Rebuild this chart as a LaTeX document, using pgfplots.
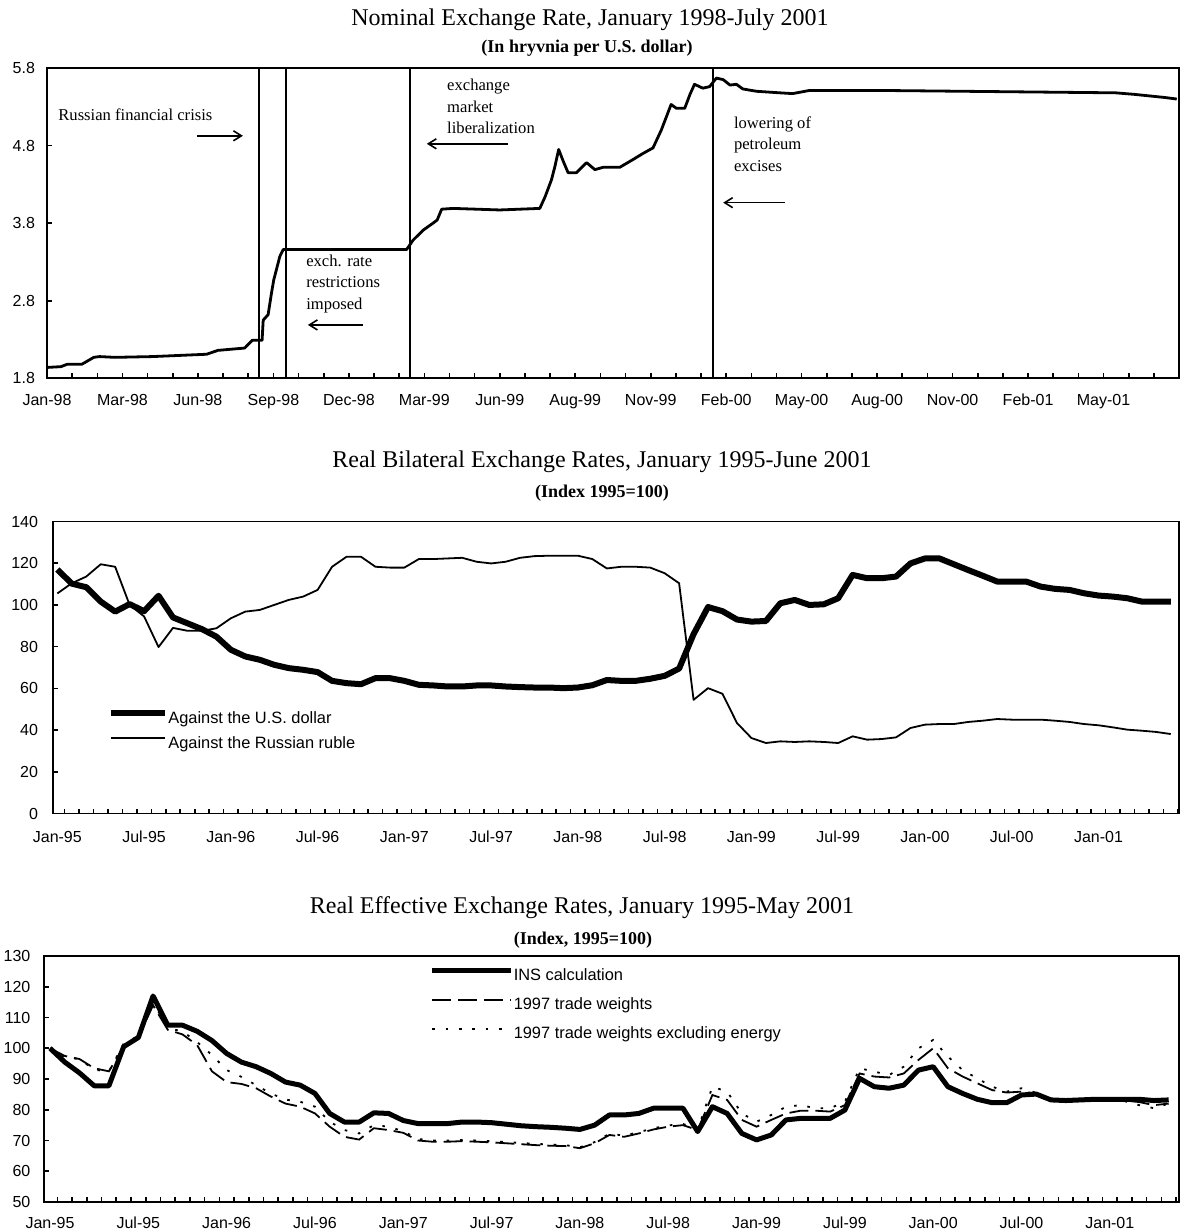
\documentclass[border=0pt]{standalone}
\usepackage{fontspec}
\setmainfont{Liberation Serif}
\setsansfont{Liberation Sans}
\usepackage{pgfplots}
\pgfplotsset{compat=1.18}
\usetikzlibrary{arrows.meta}

\pgfplotsset{
  refstyle/.style={
    scale only axis, anchor=north west,
    axis line style={line width=0.9pt},
    tick align=inside, xtick pos=left, ytick pos=left,
    major tick length=2.5pt, minor tick length=2.5pt,
    every tick/.style={black, line width=0.8pt},
    tick label style={font=\sffamily\fontsize{8}{9.6}\selectfont},
    xticklabel style={text height=6pt, text depth=0.3pt},
    /pgf/number format/assume math mode=true,
  },
  monthticks/.style={
    every major x tick/.append style={draw=none},
    xtick={0,6,...,72},
    xticklabels={Jan-95,Jul-95,Jan-96,Jul-96,Jan-97,Jul-97,Jan-98,Jul-98,Jan-99,Jul-99,Jan-00,Jul-00,Jan-01},
  },
}
\tikzset{annot/.style={anchor=west, align=left, inner sep=0pt, font=\fontsize{8.3}{10.75}\selectfont},
  arr/.style={line width=0.8pt, -{Straight Barb[length=4pt,width=5pt]}}}

\begin{document}
\begin{tikzpicture}
\path[use as bounding box] (0,0) rectangle (590.5pt,-616pt);

% ---------------- Panel 1 ----------------
\node[font=\fontsize{12}{14}\selectfont] at (295pt,-10pt) {Nominal Exchange Rate, January 1998-July 2001};
\node[font=\bfseries\fontsize{9}{11}\selectfont] at (293.5pt,-24pt) {(In hryvnia per U.S. dollar)};
\begin{axis}[refstyle, at={(23.5pt,-34pt)}, width=566pt, height=155.15pt,
  xmin=0, xmax=15, ymin=1.8, ymax=5.8,
  ytick={1.8,2.8,3.8,4.8,5.8}, yticklabels={1.8,2.8,3.8,4.8,5.8},
  xtick={0,...,15},
  xticklabels={Jan-98,Mar-98,Jun-98,Sep-98,Dec-98,Mar-99,Jun-99,Aug-99,Nov-99,Feb-00,May-00,Aug-00,Nov-00,Feb-01,May-01,{}},
  minor x tick num=2,
  xticklabel style={yshift=-4.2pt}, yticklabel style={xshift=-2.5pt},
]
\addplot[line width=1.4pt, line join=round] table {
0 1.94
0.185 1.95
0.265 1.98
0.46 1.98
0.62 2.07
0.695 2.08
0.90 2.07
1.40 2.08
2.115 2.11
2.265 2.16
2.62 2.19
2.72 2.29
2.85 2.29
2.865 2.55
2.93 2.62
2.975 2.90
3.005 3.07
3.085 3.37
3.13 3.46
4.765 3.46
4.85 3.58
4.985 3.71
5.115 3.80
5.17 3.84
5.23 3.98
5.38 3.99
6.0 3.97
6.53 3.99
6.60 4.14
6.685 4.36
6.73 4.53
6.78 4.75
6.84 4.60
6.905 4.45
7.015 4.45
7.15 4.58
7.26 4.49
7.37 4.52
7.59 4.52
7.765 4.62
7.90 4.70
8.03 4.77
8.14 5.00
8.27 5.33
8.34 5.28
8.45 5.28
8.52 5.46
8.58 5.59
8.69 5.54
8.78 5.56
8.87 5.67
8.96 5.65
9.05 5.58
9.135 5.59
9.22 5.53
9.40 5.50
9.71 5.48
9.88 5.47
10.10 5.51
11.11 5.51
12.13 5.50
13.14 5.49
14.16 5.48
14.41 5.46
14.81 5.42
14.97 5.40
};
\addplot[line width=0.9pt] coordinates {(2.81,1.8) (2.81,5.8)};
\addplot[line width=0.9pt] coordinates {(3.17,1.8) (3.17,5.8)};
\addplot[line width=0.9pt] coordinates {(4.81,1.8) (4.81,5.8)};
\addplot[line width=0.9pt] coordinates {(8.83,1.8) (8.83,5.8)};
\node[annot] at (axis cs:0.146,5.2) {Russian financial crisis};
\draw[arr] (axis cs:1.987,4.926) -- (axis cs:2.596,4.926);
\node[annot] at (axis cs:3.43,3.017) {exch. rate\\restrictions\\imposed};
\draw[arr] (axis cs:4.185,2.488) -- (axis cs:3.457,2.488);
\node[annot] at (axis cs:5.298,5.30) {exchange\\market\\liberalization};
\draw[arr] (axis cs:6.106,4.823) -- (axis cs:5.033,4.823);
\node[annot] at (axis cs:9.099,4.823) {lowering of\\petroleum\\excises};
\draw[arr] (axis cs:9.775,4.064) -- (axis cs:8.96,4.064);
\end{axis}

% ---------------- Panel 2 ----------------
\node[font=\fontsize{12}{14}\selectfont] at (301pt,-230.85pt) {Real Bilateral Exchange Rates, January 1995-June 2001};
\node[font=\bfseries\fontsize{9}{11}\selectfont] at (301pt,-246.5pt) {(Index 1995=100)};
\begin{axis}[refstyle, monthticks, at={(26.35pt,-260.75pt)}, width=563.15pt, height=146pt,
  xmin=-0.32, xmax=77.57, ymin=0, ymax=140, ytick={0,20,...,140},
  minor xtick={0.5,1.5,...,77.5},
  xticklabel style={yshift=-5.2pt}, yticklabel style={xshift=-3.8pt},
  legend cell align=left,
  legend style={at={(axis cs:3.5,39.65)}, anchor=west, draw=none, fill=none, inner sep=0pt,
    font=\sffamily\fontsize{8.2}{9}\selectfont, row sep=4.8pt,
    nodes={inner xsep=0pt, inner ysep=0pt, text height=6pt, text depth=1.7pt},
    /tikz/every even column/.append style={column sep=0pt}},
  legend image code/.code={\draw[#1] (0pt,2.9pt) -- (27pt,2.9pt);},
]
\addplot[line width=3pt, line join=round] table[x index=0, y index=1] {
0 117 105.5
1 110.2 110.4
2 108.5 113.6
3 101.6 119.5
4 96.8 118.3
5 100.4 100
6 97 94.5
7 104.4 79.8
8 94 89
9 91.2 87.6
10 88.4 87.6
11 84.8 88.8
12 78.5 93.6
13 75.3 96.8
14 73.7 97.6
15 71.3 100
16 69.7 102.4
17 68.9 104
18 67.8 107.2
19 63.6 118.3
20 62.5 123.1
21 62 123.1
22 64.9 118.3
23 64.9 117.9
24 63.6 117.9
25 61.7 122
26 61.4 122
27 60.9 122.3
28 60.9 122.6
29 61.4 120.7
30 61.4 119.9
31 60.9 120.7
32 60.6 122.6
33 60.4 123.4
34 60.4 123.6
35 60.1 123.6
36 60.4 123.6
37 61.5 122
38 64 117.5
39 63.6 118.3
40 63.6 118.3
41 64.6 117.9
42 66 115.2
43 69.5 110.4
44 86 54.5
45 99 60.1
46 97 57.4
47 93 43.4
48 92 36.2
49 92.3 33.8
50 100.8 34.6
51 102.4 34.3
52 100 34.6
53 100.3 34.3
54 103.2 33.8
55 114.4 37
56 112.8 35.4
57 112.8 35.7
58 113.6 36.5
59 119.9 41
60 122.3 42.6
61 122.3 42.9
62 119.5 42.9
63 116.7 43.9
64 114 44.5
65 111.2 45.3
66 111.2 45
67 111.2 45
68 108.8 45
69 107.7 44.5
70 107.2 43.9
71 105.6 42.9
72 104.5 42.3
73 104 41.3
74 103.2 40.2
75 101.6 39.7
76 101.6 39.1
77 101.6 38.1
};
\addlegendentry{Against the U.S. dollar}
\addplot[line width=0.9pt, line join=round] table[x index=0, y index=2] {
0 117 105.5
1 110.2 110.4
2 108.5 113.6
3 101.6 119.5
4 96.8 118.3
5 100.4 100
6 97 94.5
7 104.4 79.8
8 94 89
9 91.2 87.6
10 88.4 87.6
11 84.8 88.8
12 78.5 93.6
13 75.3 96.8
14 73.7 97.6
15 71.3 100
16 69.7 102.4
17 68.9 104
18 67.8 107.2
19 63.6 118.3
20 62.5 123.1
21 62 123.1
22 64.9 118.3
23 64.9 117.9
24 63.6 117.9
25 61.7 122
26 61.4 122
27 60.9 122.3
28 60.9 122.6
29 61.4 120.7
30 61.4 119.9
31 60.9 120.7
32 60.6 122.6
33 60.4 123.4
34 60.4 123.6
35 60.1 123.6
36 60.4 123.6
37 61.5 122
38 64 117.5
39 63.6 118.3
40 63.6 118.3
41 64.6 117.9
42 66 115.2
43 69.5 110.4
44 86 54.5
45 99 60.1
46 97 57.4
47 93 43.4
48 92 36.2
49 92.3 33.8
50 100.8 34.6
51 102.4 34.3
52 100 34.6
53 100.3 34.3
54 103.2 33.8
55 114.4 37
56 112.8 35.4
57 112.8 35.7
58 113.6 36.5
59 119.9 41
60 122.3 42.6
61 122.3 42.9
62 119.5 42.9
63 116.7 43.9
64 114 44.5
65 111.2 45.3
66 111.2 45
67 111.2 45
68 108.8 45
69 107.7 44.5
70 107.2 43.9
71 105.6 42.9
72 104.5 42.3
73 104 41.3
74 103.2 40.2
75 101.6 39.7
76 101.6 39.1
77 101.6 38.1
};
\addlegendentry{Against the Russian ruble}
\end{axis}

% ---------------- Panel 3 ----------------
\node[font=\fontsize{12}{14}\selectfont] at (291pt,-454pt) {Real Effective Exchange Rates, January 1995-May 2001};
\node[font=\bfseries\fontsize{9}{11}\selectfont] at (291.5pt,-470pt) {(Index, 1995=100)};
\begin{axis}[refstyle, monthticks, at={(22pt,-478pt)}, width=567.5pt, height=123pt,
  xmin=-0.41, xmax=76.7, ymin=50, ymax=130, ytick={50,60,...,130},
  minor xtick={0.5,1.5,...,76.5},
  xticklabel style={yshift=-3.8pt}, yticklabel style={xshift=-3.3pt},
  legend cell align=left,
  legend style={at={(axis cs:25.77,114.0)}, anchor=west, draw=none, fill=none, inner sep=0pt,
    font=\sffamily\fontsize{8.2}{9}\selectfont, row sep=6.8pt,
    nodes={inner xsep=0pt, inner ysep=0pt, text height=6pt, text depth=1.7pt},
    /tikz/every even column/.append style={column sep=0pt}},
  legend image code/.code={\draw[#1] (0pt,2.9pt) -- (39.5pt,2.9pt);},
]
\addplot[line width=2.5pt, line join=round] table[x index=0, y index=1] {
0 100 100 100
1 95.5 97.5 97
2 92 96.5 96.5
3 87.8 93.5 93
4 87.8 92.5 92.5
5 100.5 100.5 101.5
6 103.5 103.5 104
7 117 114 115
8 107.5 106 106.5
9 107.5 104.5 105.5
10 105.5 101 102
11 102.5 92.5 97.8
12 98.3 89 92.9
13 95.5 88.4 90.7
14 94 87 88
15 91.8 84.3 85.3
16 89 82 83.3
17 88 81 82.6
18 85.3 78.8 81
19 78.8 74.5 76.1
20 76 71.2 73.4
21 76 70.3 72.3
22 79 74 75
23 78.8 73.4 74.5
24 76.5 72.5 73
25 75.5 70 70.5
26 75.5 69.6 70
27 75.5 69.6 70
28 76 69.8 70.2
29 76 69.6 70
30 75.8 69.4 69.8
31 75.3 69.1 69.5
32 74.8 68.8 69.2
33 74.5 68.5 68.9
34 74.3 68.3 68.7
35 74 68.2 68.5
36 73.6 67.5 67.8
37 75 69.1 69.5
38 78.3 71.8 72.2
39 78.3 71.2 71.6
40 78.8 72.3 72.7
41 80.5 73.6 74
42 80.5 74.5 74.9
43 80.5 75 75.4
44 72.9 73.4 73.6
45 81 84.8 87.5
46 78.8 83.2 85.9
47 72.3 76.7 78.8
48 70.2 74.5 76.1
49 71.8 76.7 78.3
50 76.7 78.8 81
51 77.2 79.7 81.5
52 77.2 79.7 80.5
53 77.2 79.4 80.5
54 79.9 81.5 82.6
55 90.2 91.8 93.5
56 87.5 90.8 92.4
57 87 90.5 91.3
58 88 91.8 94
59 92.9 96.2 100
60 94 100 102.7
61 87.5 93.5 97.3
62 85.3 90.8 92.9
63 83.4 88.6 90.2
64 82.3 86.4 87.5
65 82.3 85.6 85.9
66 84.8 85.9 87
67 85.1 85.3 85.5
68 83.2 83.2 83.2
69 83 83.2 83.2
70 83.2 83 83
71 83.4 83 83
72 83.4 83 83
73 83.4 83 82.8
74 83.4 82.5 81.5
75 83 81.5 80.5
76 83.2 82 82
};
\addlegendentry{INS calculation}
\addplot[line width=0.9pt, dash pattern=on 9.5pt off 3.5pt] table[x index=0, y index=2] {
0 100 100 100
1 95.5 97.5 97
2 92 96.5 96.5
3 87.8 93.5 93
4 87.8 92.5 92.5
5 100.5 100.5 101.5
6 103.5 103.5 104
7 117 114 115
8 107.5 106 106.5
9 107.5 104.5 105.5
10 105.5 101 102
11 102.5 92.5 97.8
12 98.3 89 92.9
13 95.5 88.4 90.7
14 94 87 88
15 91.8 84.3 85.3
16 89 82 83.3
17 88 81 82.6
18 85.3 78.8 81
19 78.8 74.5 76.1
20 76 71.2 73.4
21 76 70.3 72.3
22 79 74 75
23 78.8 73.4 74.5
24 76.5 72.5 73
25 75.5 70 70.5
26 75.5 69.6 70
27 75.5 69.6 70
28 76 69.8 70.2
29 76 69.6 70
30 75.8 69.4 69.8
31 75.3 69.1 69.5
32 74.8 68.8 69.2
33 74.5 68.5 68.9
34 74.3 68.3 68.7
35 74 68.2 68.5
36 73.6 67.5 67.8
37 75 69.1 69.5
38 78.3 71.8 72.2
39 78.3 71.2 71.6
40 78.8 72.3 72.7
41 80.5 73.6 74
42 80.5 74.5 74.9
43 80.5 75 75.4
44 72.9 73.4 73.6
45 81 84.8 87.5
46 78.8 83.2 85.9
47 72.3 76.7 78.8
48 70.2 74.5 76.1
49 71.8 76.7 78.3
50 76.7 78.8 81
51 77.2 79.7 81.5
52 77.2 79.7 80.5
53 77.2 79.4 80.5
54 79.9 81.5 82.6
55 90.2 91.8 93.5
56 87.5 90.8 92.4
57 87 90.5 91.3
58 88 91.8 94
59 92.9 96.2 100
60 94 100 102.7
61 87.5 93.5 97.3
62 85.3 90.8 92.9
63 83.4 88.6 90.2
64 82.3 86.4 87.5
65 82.3 85.6 85.9
66 84.8 85.9 87
67 85.1 85.3 85.5
68 83.2 83.2 83.2
69 83 83.2 83.2
70 83.2 83 83
71 83.4 83 83
72 83.4 83 83
73 83.4 83 82.8
74 83.4 82.5 81.5
75 83 81.5 80.5
76 83.2 82 82
};
\addlegendentry{1997 trade weights}
\addplot[line width=0.9pt, dash pattern=on 1.3pt off 5.4pt] table[x index=0, y index=3] {
0 100 100 100
1 95.5 97.5 97
2 92 96.5 96.5
3 87.8 93.5 93
4 87.8 92.5 92.5
5 100.5 100.5 101.5
6 103.5 103.5 104
7 117 114 115
8 107.5 106 106.5
9 107.5 104.5 105.5
10 105.5 101 102
11 102.5 92.5 97.8
12 98.3 89 92.9
13 95.5 88.4 90.7
14 94 87 88
15 91.8 84.3 85.3
16 89 82 83.3
17 88 81 82.6
18 85.3 78.8 81
19 78.8 74.5 76.1
20 76 71.2 73.4
21 76 70.3 72.3
22 79 74 75
23 78.8 73.4 74.5
24 76.5 72.5 73
25 75.5 70 70.5
26 75.5 69.6 70
27 75.5 69.6 70
28 76 69.8 70.2
29 76 69.6 70
30 75.8 69.4 69.8
31 75.3 69.1 69.5
32 74.8 68.8 69.2
33 74.5 68.5 68.9
34 74.3 68.3 68.7
35 74 68.2 68.5
36 73.6 67.5 67.8
37 75 69.1 69.5
38 78.3 71.8 72.2
39 78.3 71.2 71.6
40 78.8 72.3 72.7
41 80.5 73.6 74
42 80.5 74.5 74.9
43 80.5 75 75.4
44 72.9 73.4 73.6
45 81 84.8 87.5
46 78.8 83.2 85.9
47 72.3 76.7 78.8
48 70.2 74.5 76.1
49 71.8 76.7 78.3
50 76.7 78.8 81
51 77.2 79.7 81.5
52 77.2 79.7 80.5
53 77.2 79.4 80.5
54 79.9 81.5 82.6
55 90.2 91.8 93.5
56 87.5 90.8 92.4
57 87 90.5 91.3
58 88 91.8 94
59 92.9 96.2 100
60 94 100 102.7
61 87.5 93.5 97.3
62 85.3 90.8 92.9
63 83.4 88.6 90.2
64 82.3 86.4 87.5
65 82.3 85.6 85.9
66 84.8 85.9 87
67 85.1 85.3 85.5
68 83.2 83.2 83.2
69 83 83.2 83.2
70 83.2 83 83
71 83.4 83 83
72 83.4 83 83
73 83.4 83 82.8
74 83.4 82.5 81.5
75 83 81.5 80.5
76 83.2 82 82
};
\addlegendentry{1997 trade weights excluding energy}
\end{axis}
\end{tikzpicture}
\end{document}
